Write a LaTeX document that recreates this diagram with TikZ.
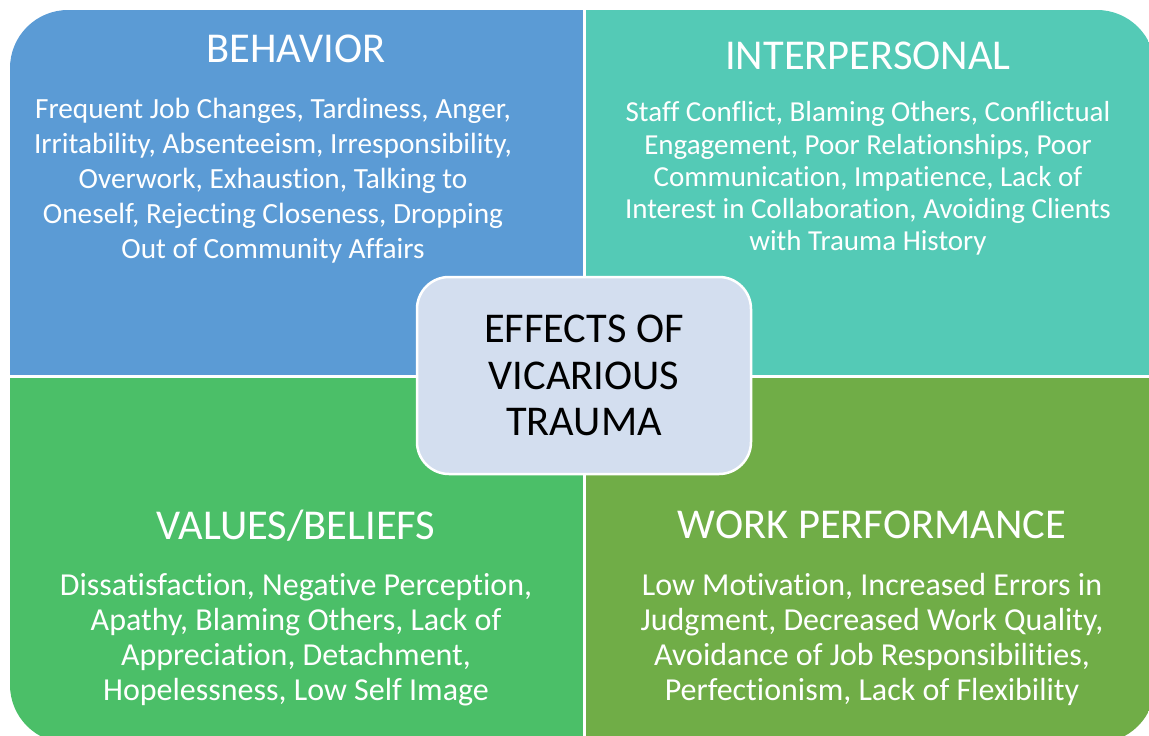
\documentclass[tikz,border=0pt]{standalone}
\usepackage{fontspec}
\setmainfont[Ligatures=NoCommon]{Carlito}
\definecolor{cB}{HTML}{5B9BD5}
\definecolor{cT}{HTML}{54CAB6}
\definecolor{cG}{HTML}{4BBF68}
\definecolor{cO}{HTML}{70AD47}
\definecolor{cC}{HTML}{D3DEEF}
\tikzset{
  ttl/.style={text=white, inner sep=0pt, anchor=base, font=\fontsize{42.5}{49}\selectfont},
  body/.style={text=white, inner sep=0pt, anchor=base, align=center, font=\fontsize{29.3}{35}\selectfont},
  centerbox/.style={fill=cC, draw=white, line width=2.5pt, rounded corners=32pt, minimum width=334pt, minimum height=197pt, inner sep=0pt, align=center, font=\fontsize{42.4}{46.7}\selectfont, text=black}
}
\begin{document}
\begin{tikzpicture}[x=1pt,y=-1pt]
\useasboundingbox (0,0) rectangle (1149,736);
\begin{scope}
\clip (0,0) rectangle (1149,736);
\clip[rounded corners=58pt] (10,10) rectangle (1155,743);
\fill[cB] (10,10) rectangle (583,375);
\fill[cT] (586,10) rectangle (1155,375);
\fill[cG] (10,378) rectangle (583,743);
\fill[cO] (586,378) rectangle (1155,743);
\end{scope}
\node[ttl] (t1) at (296,62) {BEHAVIOR};
\node[body] (b1) at (273,258) {Frequent Job Changes, Tardiness, Anger,\\Irritability, Absenteeism, Irresponsibility,\\Overwork, Exhaustion, Talking to\\Oneself, Rejecting Closeness, Dropping\\Out of Community Affairs};
\node[ttl] (t2) at (868,69) {INTERPERSONAL};
\node[body, font=\fontsize{29}{32.3}\selectfont] (b2) at (868,250.9) {Staff Conflict, Blaming Others, Conflictual\\Engagement, Poor Relationships, Poor\\Communication, Impatience, Lack of\\Interest in Collaboration, Avoiding Clients\\with Trauma History};
\node[ttl] (t3) at (296,539) {VALUES/BELIEFS};
\node[body, font=\fontsize{32}{35}\selectfont] (b3) at (296,700) {Dissatisfaction, Negative Perception,\\Apathy, Blaming Others, Lack of\\Appreciation, Detachment,\\Hopelessness, Low Self Image};
\node[ttl] (t4) at (872,538) {WORK PERFORMANCE};
\node[body, font=\fontsize{32}{35}\selectfont] (b4) at (872,700) {Low Motivation, Increased Errors in\\Judgment, Decreased Work Quality,\\Avoidance of Job Responsibilities,\\Perfectionism, Lack of Flexibility};
\node[centerbox] (c) at (584,375.5) {EFFECTS OF\\VICARIOUS\\TRAUMA};
\end{tikzpicture}
\end{document}
